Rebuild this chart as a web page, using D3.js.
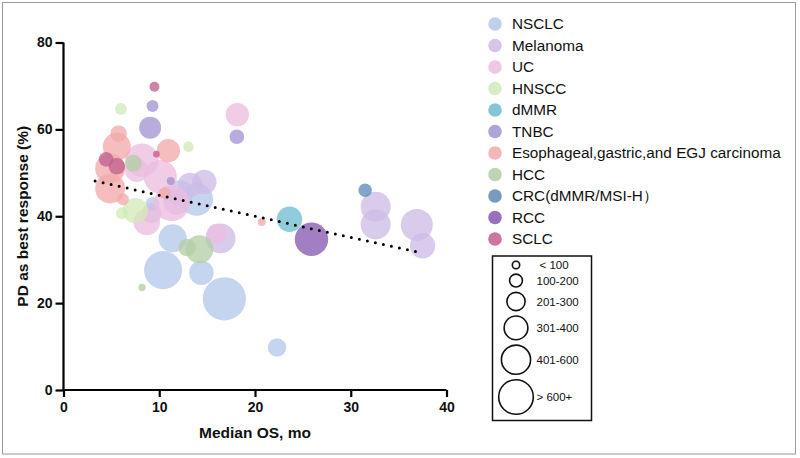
<!DOCTYPE html>
<html>
<head>
<meta charset="utf-8">
<script src="https://cdn.jsdelivr.net/npm/d3@7"></script>
<style>
  body { margin: 0; background: #fff; }
  svg { display: block; font-family: "Liberation Sans", Arial, sans-serif; }
</style>
</head>
<body>
<svg id="chart" width="800" height="458"></svg>
<script>
// tumour types, in legend order
const seriesNames = ['NSCLC', 'Melanoma', 'UC', 'HNSCC', 'dMMR', 'TNBC',
    'Esophageal,gastric,and EGJ carcinoma', 'HCC', 'CRC(dMMR/MSI-H\uFF09', 'RCC', 'SCLC'];
const seriesColours = ['#b3c8ea', '#cdbbe5', '#ecbde0', '#d2eab8', '#6fbcd2', '#a193d0',
    '#f2a9ab', '#b3cea6', '#5f88b9', '#8558b0', '#bf5f8d'];

// one entry per trial: [median OS (mo), PD as best response (%), patients]
const nsclc = [[16.8, 21.0, 900], [10.4, 27.6, 700], [11.4, 34.9, 380], [14.4, 27.0, 290],
    [22.3, 9.8, 165], [13.9, 43.9, 520], [12.2, 45.3, 325], [9.3, 42.8, 95]];
const melanoma = [[32.6, 42.2, 434], [32.6, 38.1, 434], [36.9, 38.0, 494], [37.5, 33.2, 311],
    [16.4, 34.9, 434], [14.7, 47.9, 292], [13.2, 47.2, 292], [9.2, 40.7, 193], [11.8, 43.3, 326]];
const uc = [[18.15, 63.4, 264], [8.2, 52.9, 538], [10.1, 49.1, 538], [11.3, 43.0, 625],
    [8.7, 38.7, 341], [7.65, 50.6, 264], [16.0, 36.0, 193]];
const hnscc = [[6.0, 64.7, 69], [13.05, 56.0, 54], [7.5, 41.3, 311], [6.1, 40.7, 69]];
const dmmr = [[23.6, 39.3, 311]];
const tnbc = [[9.3, 65.4, 69], [9.05, 60.4, 233], [18.1, 58.3, 103], [11.2, 48.1, 31]];
const esophageal = [[5.75, 59.0, 133], [5.57, 56.0, 378], [4.87, 51.0, 434], [4.87, 46.4, 434],
    [10.95, 55.1, 264], [6.2, 43.9, 69], [20.7, 38.7, 31], [10.6, 45.3, 69]];
const hcc = [[14.2, 32.4, 378], [12.9, 32.8, 146], [8.2, 23.6, 26], [7.3, 52.2, 139]];
const crc = [[31.5, 46.0, 87]];
const rcc = [[25.9, 34.7, 538]];
const sclc = [[9.5, 69.8, 48], [9.7, 54.3, 21], [4.45, 53.1, 103], [5.57, 51.5, 133]];
const seriesData = [nsclc, melanoma, uc, hnscc, dmmr, tnbc, esophageal, hcc, crc, rcc, sclc];

// fitted trend line end points
const trendX = [3.3, 37.1];
const trendY = [48.1, 31.7];

const xTicks = [0, 10, 20, 30, 40];
const yTicks = [0, 20, 40, 60, 80];
const sizeLabels = ['< 100', '100-200', '201-300', '301-400', '401-600', '> 600+'];

const svg = d3.select('#chart');

// outer frame
svg.append('rect')
    .attr('x', 2.5).attr('y', 2.5)
    .attr('width', 793).attr('height', 451.5)
    .attr('fill', 'none')
    .attr('stroke', '#9a9a9a')
    .attr('stroke-width', 1);

const xScale = d3.scaleLinear().domain([0, 40]).range([63.5, 446.5]);
const yScale = d3.scaleLinear().domain([0, 80]).range([390, 42.5]);
const rScale = d3.scaleSqrt().domain([0, 900]).range([0, 21.6]);
const colourScale = d3.scaleOrdinal().domain(seriesNames).range(seriesColours);

const points = [];
seriesData.forEach((rows, i) => {
    rows.forEach(r => points.push({ name: seriesNames[i], x: r[0], y: r[1], n: r[2] }));
});

const plot = svg.append('g');
plot.selectAll('circle')
    .data(points)
    .enter()
    .append('circle')
    .attr('cx', d => xScale(d.x))
    .attr('cy', d => yScale(d.y))
    .attr('r', d => rScale(d.n))
    .attr('fill', d => colourScale(d.name))
    .attr('fill-opacity', 0.77);

// dotted trend
const trendLine = d3.line()
    .x(d => xScale(d[0]))
    .y(d => yScale(d[1]));
plot.append('path')
    .datum(d3.zip(trendX, trendY))
    .attr('d', trendLine)
    .attr('fill', 'none')
    .attr('stroke', '#000')
    .attr('stroke-width', 3)
    .attr('stroke-linecap', 'round')
    .attr('stroke-dasharray', '0 8.2');

// axes
const xAxis = svg.append('g')
    .attr('transform', `translate(0,${yScale(0)})`)
    .call(d3.axisBottom(xScale).tickValues(xTicks).tickSize(7).tickPadding(5));
const yAxis = svg.append('g')
    .attr('transform', `translate(${xScale(0)},0)`)
    .call(d3.axisLeft(yScale).tickValues(yTicks).tickSize(8).tickPadding(3));

[xAxis, yAxis].forEach(ax => {
    ax.select('.domain').attr('stroke', '#000').attr('stroke-width', 2.2);
    ax.selectAll('.tick line').attr('stroke', '#000').attr('stroke-width', 2.2);
    ax.selectAll('.tick text')
        .attr('fill', '#111')
        .style('font-family', '"Liberation Sans", Arial, sans-serif')
        .style('font-size', '14px')
        .style('font-weight', 'bold');
});
xAxis.select('.domain').attr('d', `M${xScale(0)},0H${xScale(40)}`);
yAxis.select('.domain').attr('d', `M0,${yScale(80)}V${yScale(0)}`);

svg.append('text')
    .attr('x', (xScale(0) + xScale(40)) / 2)
    .attr('y', 438)
    .attr('text-anchor', 'middle')
    .attr('font-size', 15.5)
    .attr('font-weight', 'bold')
    .attr('fill', '#111')
    .text('Median OS, mo');

svg.append('text')
    .attr('transform', `translate(28,${yScale(40)}) rotate(-90)`)
    .attr('text-anchor', 'middle')
    .attr('font-size', 15.5)
    .attr('font-weight', 'bold')
    .attr('fill', '#111')
    .text('PD as best response (%)');

// colour legend
const legend = svg.append('g').attr('transform', 'translate(495,24)');
const legendRow = legend.selectAll('g')
    .data(seriesNames)
    .enter()
    .append('g')
    .attr('transform', (d, i) => `translate(0,${i * 21.5})`);
legendRow.append('circle')
    .attr('r', 6.8)
    .attr('fill', d => colourScale(d))
    .attr('fill-opacity', 0.85);
legendRow.append('text')
    .attr('x', 17)
    .attr('dy', '0.35em')
    .attr('font-size', 15.3)
    .attr('fill', '#111')
    .text(d => d);

// size legend
const sizeBox = svg.append('g');
sizeBox.append('rect')
    .attr('x', 492.5).attr('y', 256)
    .attr('width', 99).attr('height', 164.5)
    .attr('fill', '#fff')
    .attr('stroke', '#111')
    .attr('stroke-width', 1.5);

const legendR = d3.scaleLinear().domain([0, 5]).range([3.7, 17.3]);
let cy = 265;
const sizeRows = sizeLabels.map((label, i) => {
    if (i > 0) cy += legendR(i - 1) + legendR(i) + 5.4;
    return { label, r: legendR(i), y: cy };
});
const sizeRow = sizeBox.selectAll('g.size')
    .data(sizeRows)
    .enter()
    .append('g')
    .attr('class', 'size')
    .attr('transform', d => `translate(516,${d.y})`);
sizeRow.append('circle')
    .attr('r', d => d.r)
    .attr('fill', 'none')
    .attr('stroke', '#111')
    .attr('stroke-width', 1.6);
sizeRow.append('text')
    .attr('x', (d, i) => (i === 0 ? 23.5 : 20.5))
    .attr('dy', '0.35em')
    .attr('font-size', 11.5)
    .attr('fill', '#111')
    .text(d => d.label);
</script>
</body>
</html>
